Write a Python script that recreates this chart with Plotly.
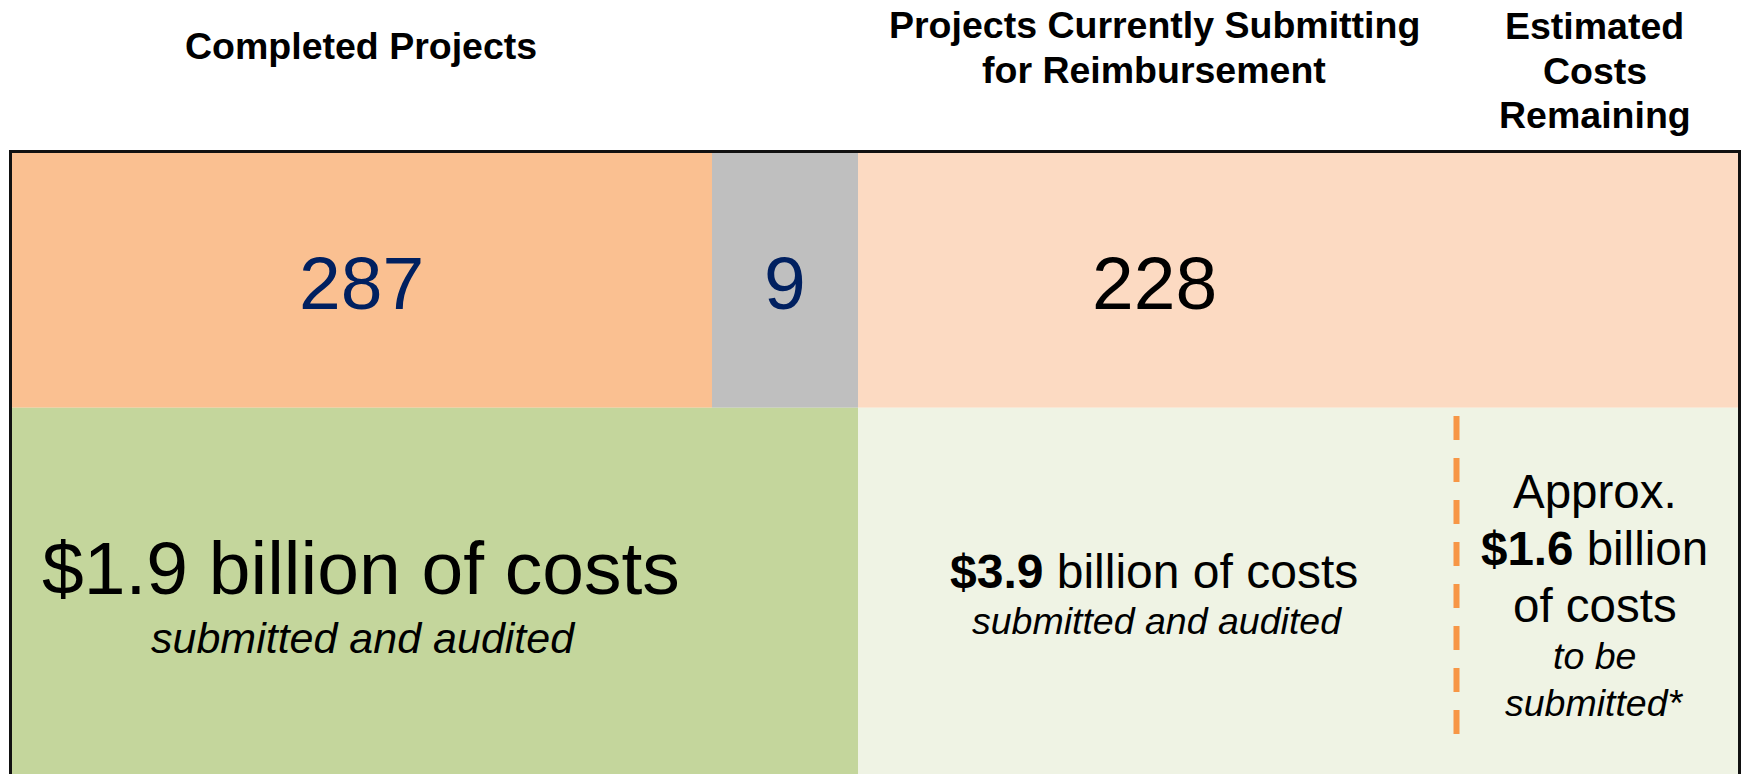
import plotly.graph_objects as go

# chart content
header_lines = [
    ["Completed Projects"],
    ["Projects Currently Submitting", "for Reimbursement"],
    ["Estimated", "Costs", "Remaining"],
]
count_labels = ["287", "9", "228"]
count_colors = ["#002060", "#002060", "#000000"]
cost_values = ["$1.9", "$3.9", "$1.6"]
cost_notes = ["submitted and audited", "submitted and audited", "to be submitted*"]

# layout constants (pixel space of the 1743 x 774 page)
W, H = 1743, 774
FONT = "Liberation Sans, Arial, sans-serif"
TOP_ROW = (153, 407.7)
BOTTOM_ROW = (407.7, 800)
top_edges = [10, 712, 858, 1745]
top_fills = ["#FAC091", "#BFBFBF", "#FCDAC2"]
bottom_edges = [10, 858, 1745]
bottom_fills = ["#C4D69C", "#EFF3E4"]
col_centers = [361, 1154, 1594.5]
dash_x = 1456.5

fig = go.Figure()


def add_row(edges, fills, row):
    starts = edges[:-1]
    widths = [b - a for a, b in zip(edges[:-1], edges[1:])]
    fig.add_trace(go.Bar(
        orientation="h", base=starts, x=widths,
        y=[(row[0] + row[1]) / 2] * len(widths), width=row[1] - row[0],
        marker=dict(color=fills, line=dict(width=0)),
        hoverinfo="skip", showlegend=False))


add_row(top_edges, top_fills, TOP_ROW)
add_row(bottom_edges, bottom_fills, BOTTOM_ROW)

# white strip right of the frame
fig.add_trace(go.Bar(orientation="h", base=[1740.5], x=[20], y=[480], width=700,
                     marker=dict(color="white", line=dict(width=0)),
                     hoverinfo="skip", showlegend=False))

# outer frame
fig.add_trace(go.Scatter(x=[10.5, 10.5, 1739.5, 1739.5], y=[800, 151.5, 151.5, 800],
                         mode="lines", line=dict(color="#111111", width=3),
                         hoverinfo="skip", showlegend=False))
# dashed divider for the remaining-costs column
fig.add_trace(go.Scatter(x=[dash_x, dash_x], y=[416, 734], mode="lines",
                         line=dict(color="#F79646", width=6, dash="24px,18px"),
                         hoverinfo="skip", showlegend=False))


def label(x, y, text, size, color="#000000"):
    fig.add_annotation(x=x, y=y, xref="x", yref="y", text=text, showarrow=False,
                       xanchor="center", yanchor="middle",
                       font=dict(family=FONT, size=size, color=color))


# headers
header_y = [[45.5], [24.5, 69.5], [25.7, 71, 115]]
for cx, lines, ys in zip(col_centers, header_lines, header_y):
    for line, y in zip(lines, ys):
        label(cx, y, f"<b>{line}</b>", 37.5)

# project counts
count_x = [361, 785, 1154]
for cx, txt, col in zip(count_x, count_labels, count_colors):
    label(cx, 282.5, txt, 75, col)

# costs
label(361, 568, f"{cost_values[0]} billion of costs", 75)
label(363, 638, f"<i>{cost_notes[0]}</i>", 43)

label(1154, 571.5, f"<b>{cost_values[1]}</b> billion of costs", 48)
label(1157, 621, f"<i>{cost_notes[1]}</i>", 37.5)

label(1594.5, 491, "Approx.", 47.5)
label(1594.5, 548, f"<b>{cost_values[2]}</b> billion", 47.5)
label(1594.5, 605, "of costs", 47.5)
note_words = cost_notes[2].split(" ")
label(1594.5, 655.5, f"<i>{' '.join(note_words[:2])}</i>", 37.5)
label(1594.5, 703, f"<i>{note_words[2]}</i>", 37.5)

fig.update_layout(
    width=W, height=H, margin=dict(l=0, r=0, t=0, b=0),
    paper_bgcolor="white", plot_bgcolor="white", barmode="overlay",
    xaxis=dict(range=[0, W], visible=False, fixedrange=True),
    yaxis=dict(range=[H, 0], visible=False, fixedrange=True),
)

# drop the default body margin so the figure sits at the page's top-left corner
fig.write_html("out.html", config={"displayModeBar": False},
               post_script="document.body.style.margin='0';")
